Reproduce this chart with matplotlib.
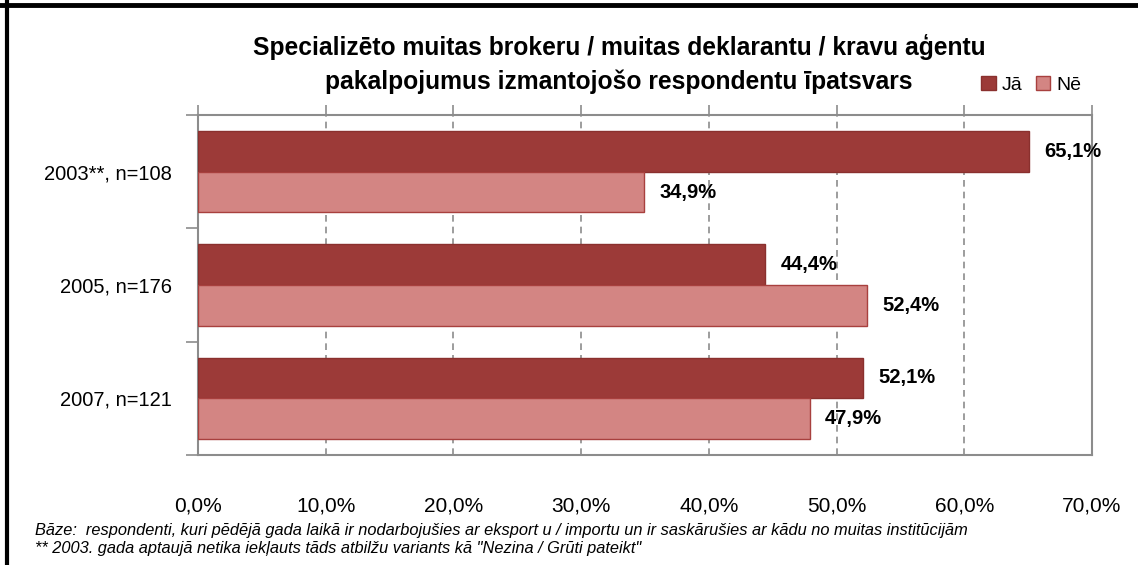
import numpy as np
import matplotlib
matplotlib.use("Agg")
import matplotlib.pyplot as plt
from matplotlib.patches import Rectangle
from matplotlib.lines import Line2D

plt.rcParams['font.family'] = ['Liberation Sans', 'DejaVu Sans']

categories = ["2003**, n=108", "2005, n=176", "2007, n=121"]
ja = [65.1, 44.4, 52.1]
ne = [34.9, 52.4, 47.9]
xticks = [0, 10, 20, 30, 40, 50, 60, 70]

col_ja = "#9C3A38"
col_ne = "#D38583"

def pct(v):
    return f"{v:.1f}%".replace(".", ",")

fig = plt.figure(figsize=(11.38, 5.65), dpi=100)
ax = fig.add_axes([198/1138, 1 - 455/565, (1092 - 198)/1138, (455 - 115)/565])

y = np.arange(len(categories))
h = 0.36
ax.barh(y - h/2, ja, height=h, color=col_ja, edgecolor="#8A302E", linewidth=1, label="Jā", zorder=3)
ax.barh(y + h/2, ne, height=h, color=col_ne, edgecolor="#A8403E", linewidth=1, label="Nē", zorder=3)

for i in range(len(categories)):
    ax.annotate(pct(ja[i]), (ja[i], y[i] - h/2), xytext=(11, 0), textcoords="offset points",
                va="center", ha="left", fontsize=14.5, fontweight="bold")
    ax.annotate(pct(ne[i]), (ne[i], y[i] + h/2), xytext=(11, 0), textcoords="offset points",
                va="center", ha="left", fontsize=14.5, fontweight="bold")

ax.set_xlim(0, 70)
ax.set_ylim(2.5, -0.5)
ax.set_xticks(xticks)
ax.set_xticklabels([pct(t) for t in xticks], fontsize=15)
ax.tick_params(axis="x", bottom=False, top=True, labelbottom=True, labeltop=False,
               length=7, width=1.2, color="#8C8C8C", pad=23, direction="out")
ax.set_yticks(y)
ax.set_yticklabels(categories, fontsize=14.5)
ax.set_yticks([-0.5, 0.5, 1.5, 2.5], minor=True)
ax.tick_params(axis="y", which="major", length=0, pad=19)
ax.tick_params(axis="y", which="minor", length=9, width=1.2, color="#8C8C8C")

ax.grid(axis="x", color="#8C8C8C", linestyle=(0, (4, 3)), linewidth=1.2, zorder=0)
for s in ax.spines.values():
    s.set_color("#8C8C8C")
    s.set_linewidth(1.5)

fig.text(619/1138, 1 - 47/565, "Specializēto muitas brokeru / muitas deklarantu / kravu aģentu",
         ha="center", va="center", fontsize=17.7, fontweight="bold")
fig.text(619/1138, 1 - 82/565, "pakalpojumus izmantojošo respondentu īpatsvars",
         ha="center", va="center", fontsize=17.7, fontweight="bold")

handles = [Rectangle((0, 0), 1, 1, facecolor=col_ja, edgecolor="#8A302E"),
           Rectangle((0, 0), 1, 1, facecolor=col_ne, edgecolor="#A8403E")]
fig.legend(handles, ["Jā", "Nē"], loc="center left", bbox_to_anchor=(981/1138, 1 - 85/565),
           ncol=2, frameon=False, fontsize=14, handlelength=0.75, handleheight=0.75,
           handletextpad=0.3, columnspacing=0.7, borderaxespad=0, borderpad=0)

fig.text(35/1138, 1 - 530/565,
         "Bāze:  respondenti, kuri pēdējā gada laikā ir nodarbojušies ar eksport u / importu un ir saskārušies ar kādu no muitas institūcijām",
         ha="left", va="center", fontsize=11.8, style="italic")
fig.text(35/1138, 1 - 549/565,
         "** 2003. gada aptaujā netika iekļauts tāds atbilžu variants kā \"Nezina / Grūti pateikt\"",
         ha="left", va="center", fontsize=11.8, style="italic")

fig.add_artist(Line2D([6.5/1138, 6.5/1138], [0, 1], color="black", linewidth=3, transform=fig.transFigure))
fig.add_artist(Line2D([0, 1], [0.992, 0.992], color="black", linewidth=3.5, transform=fig.transFigure))

fig.savefig("out.png", dpi=100)
